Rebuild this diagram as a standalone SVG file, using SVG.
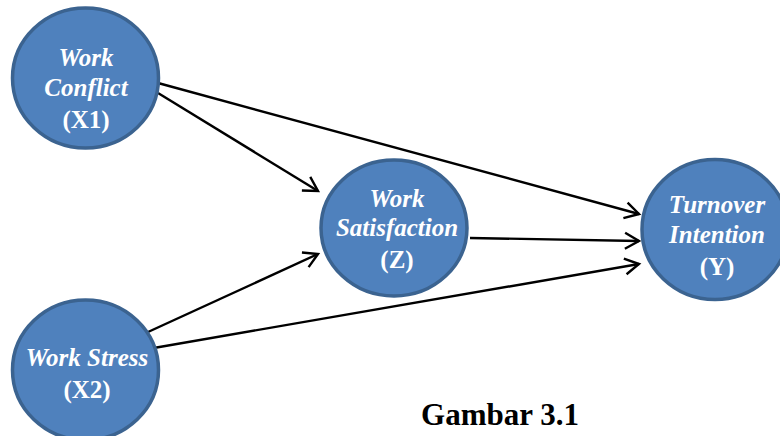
<svg xmlns="http://www.w3.org/2000/svg" width="780" height="436" viewBox="0 0 780 436">
<defs>
<marker id="arr" markerUnits="userSpaceOnUse" markerWidth="20" markerHeight="20" viewBox="-16 -10 18 20" refX="0" refY="0" orient="auto">
<path d="M-14,-8 L0,0 L-14,8" fill="none" stroke="#000" stroke-width="2.4"/>
</marker>
<style>
.node{fill:#4f81bd;stroke:#3b6390;stroke-width:3.5}
.lbl{font-family:Liberation Serif,Tinos,Times New Roman,DejaVu Serif,serif;font-size:25px;font-weight:bold;fill:#fff;text-anchor:middle}
.it{font-style:italic}
.cap{font-family:Liberation Serif,Tinos,Times New Roman,DejaVu Serif,serif;font-size:31px;font-weight:bold;fill:#000;text-anchor:middle}
.edge{stroke:#000;stroke-width:2.4;fill:none;marker-end:url(#arr)}
</style>
</defs>
<g id="edges">
<line class="edge" x1="158" y1="83" x2="639" y2="214"/>
<line class="edge" x1="158" y1="93" x2="318" y2="191"/>
<line class="edge" x1="470" y1="238" x2="639" y2="241"/>
<line class="edge" x1="148" y1="332" x2="318" y2="254"/>
<line class="edge" x1="148" y1="349" x2="639" y2="264"/>
</g>
<g id="X1">
<ellipse class="node" cx="85.5" cy="78" rx="73" ry="70"/>
<text class="lbl it" x="86" y="66">Work</text>
<text class="lbl it" x="86" y="96">Conflict</text>
<text class="lbl" x="86" y="128">(X1)</text>
</g>
<g id="X2">
<ellipse class="node" cx="85.5" cy="370" rx="73" ry="70"/>
<text class="lbl it" x="87" y="366">Work Stress</text>
<text class="lbl" x="87" y="398">(X2)</text>
</g>
<g id="Z">
<ellipse class="node" cx="394" cy="228" rx="73" ry="68"/>
<text class="lbl it" x="397" y="207">Work</text>
<text class="lbl it" x="397" y="236">Satisfaction</text>
<text class="lbl" x="397" y="268">(Z)</text>
</g>
<g id="Y">
<ellipse class="node" cx="715" cy="229.5" rx="73" ry="70"/>
<text class="lbl it" x="717" y="213">Turnover</text>
<text class="lbl it" x="717" y="243">Intention</text>
<text class="lbl" x="717" y="275">(Y)</text>
</g>
<text class="cap" x="500" y="425">Gambar 3.1</text>
</svg>
